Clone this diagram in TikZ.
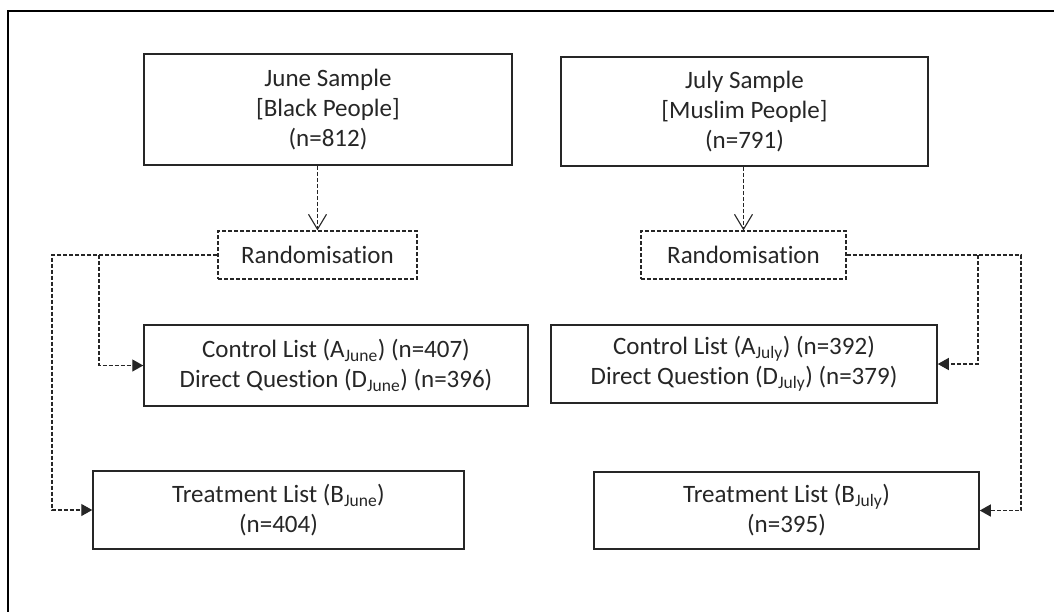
\documentclass[tikz,border=0pt]{standalone}
\usepackage{fontspec}
\setmainfont[Ligatures=NoCommon]{Carlito}
\usetikzlibrary{arrows.meta}
\definecolor{ink}{HTML}{262626}
\begin{document}
\begin{tikzpicture}[x=1pt,y=-1pt,
  every node/.style={font=\fontsize{25}{30}\selectfont, text=ink, align=center, inner sep=0pt},
  solidbox/.style={draw=ink, line width=1.5pt},
  dashbox/.style={draw=ink, line width=1.3pt, dash pattern=on 4pt off 2pt},
  dl/.style={draw=ink, line width=1.3pt, dash pattern=on 4pt off 2pt},
  vtip/.style={-{Straight Barb[length=15pt,width=18pt,line width=1.1pt]}},
  ftip/.style={-{Triangle[length=11pt,width=12pt]}}
]
\useasboundingbox (0,0) rectangle (1054,611);
\draw[line width=2pt, black] (8,620) -- (8,11) -- (1060,11);

\node[solidbox, minimum width=368pt, minimum height=111pt] (june) at (328,109.5) {June Sample\\\relax [Black People]\\(n=812)};
\node[solidbox, minimum width=367pt, minimum height=109pt] (july) at (744.5,111.5) {July Sample\\\relax [Muslim People]\\(n=791)};

\node[dashbox, minimum width=199pt, minimum height=48pt] (randL) at (317.5,255) {Randomisation};
\node[dashbox, minimum width=205pt, minimum height=48pt] (randR) at (743.5,255) {Randomisation};

\node[solidbox, minimum width=384pt, minimum height=81pt] (ctrlJune) at (336,365.5) {Control List (A\textsubscript{June}) (n=407)\\Direct Question (D\textsubscript{June}) (n=396)};
\node[solidbox, minimum width=386pt, minimum height=78pt] (ctrlJuly) at (744,364) {Control List (A\textsubscript{July}) (n=392)\\Direct Question (D\textsubscript{July}) (n=379)};

\node[solidbox, minimum width=371pt, minimum height=78pt] (trJune) at (278.5,510) {Treatment List (B\textsubscript{June})\\(n=404)};
\node[solidbox, minimum width=385pt, minimum height=77pt] (trJuly) at (786.5,510.5) {Treatment List (B\textsubscript{July})\\(n=395)};

% down arrows
\draw[dl, vtip] (june.south -| randL.north) -- (randL.north);
\draw[dl, vtip] (july.south -| randR.north) -- (randR.north);

% left branches
\coordinate (lo) at (52,255);
\coordinate (li) at (99,255);
\draw[dl, ftip] (randL.west) -- (lo) |- (trJune.west);
\draw[dl, ftip] (li) |- (ctrlJune.west);

% right branches
\coordinate (ro) at (1021,255);
\coordinate (ri) at (978,255);
\draw[dl, ftip] (randR.east) -- (ro) |- (trJuly.east);
\draw[dl, ftip] (ri) |- (ctrlJuly.east);
\end{tikzpicture}
\end{document}
